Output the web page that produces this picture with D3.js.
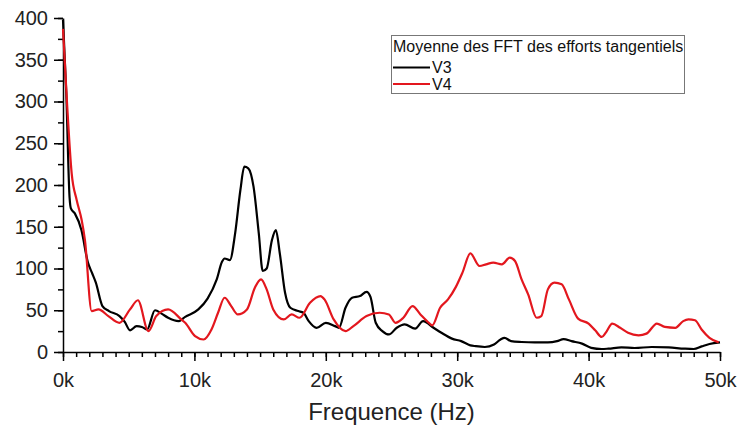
<!DOCTYPE html>
<html>
<head>
<meta charset="utf-8">
<script src="https://cdn.jsdelivr.net/npm/d3@7/dist/d3.min.js"></script>
<style>
  html, body { margin: 0; padding: 0; background: #fff; }
  svg { display: block; font-family: "Liberation Sans", Arial, sans-serif; }
</style>
</head>
<body>
<svg id="chart" width="739" height="432"></svg>
<script>
// Frequencies in kHz
const v3Freq = [0, 0.25, 0.5, 0.6, 0.9, 1.4, 1.9, 2.2, 2.5, 3.0, 3.5, 4.3, 4.7, 5.1, 5.6, 6.0, 6.4, 7.0, 7.5, 8.0, 8.8, 9.3, 10.3, 11.0, 11.7, 12.1, 12.3, 12.7, 13.1, 13.5, 13.8, 14.1, 14.5, 14.9, 15.2, 15.5, 15.9, 16.2, 16.5, 16.9, 17.3, 17.9, 18.3, 18.7, 19.3, 20.0, 20.7, 21.0, 21.5, 22.0, 22.6, 23.1, 23.4, 23.8, 24.3, 24.8, 25.4, 26.0, 26.8, 27.4, 28.2, 28.8, 29.6, 30.3, 31.0, 31.4, 32.1, 32.8, 33.3, 33.6, 34.1, 34.9, 35.9, 36.9, 37.6, 38.1, 38.7, 39.5, 40.2, 41.0, 41.5, 42.5, 43.5, 44.8, 46.1, 47.3, 48.0, 48.6, 49.2, 50.0];
const v3Val  = [398, 310, 185, 172, 166, 146, 107, 95, 83, 55, 49, 43, 36, 26, 31, 30, 27, 50, 46, 41, 37, 42, 51, 64, 87, 108, 112, 110, 142, 194, 222, 220, 198, 142, 97, 100, 134, 146, 118, 71, 53, 49, 47, 37, 29, 35, 31, 29, 53, 65, 67, 72, 66, 35, 25, 21, 29, 33, 28, 37, 29, 23, 16, 13, 8, 7, 6, 9, 15, 17, 13, 12, 11.5, 11.5, 13, 15.5, 13, 10, 5, 3.6, 4, 5.5, 4.8, 6, 5.5, 4, 3.6, 6.7, 9.6, 11.5];

const v4Freq = [0, 0.3, 0.66, 1.04, 1.42, 1.67, 2.18, 2.7, 3.45, 4.3, 5.1, 5.7, 6.5, 7.1, 8.0, 9.0, 9.3, 10.05, 10.7, 11.3, 11.8, 12.3, 12.8, 13.3, 14.0, 14.6, 15.07, 15.5, 16.0, 16.8, 17.4, 18.0, 18.8, 19.6, 19.9, 20.6, 21.5, 22.1, 23.1, 24.1, 24.8, 25.3, 25.9, 26.6, 27.2, 27.7, 28.1, 28.7, 29.3, 29.9, 30.4, 31.0, 31.7, 32.2, 32.75, 33.4, 34.0, 34.4, 34.9, 35.4, 36.05, 36.4, 36.9, 37.4, 37.95, 38.5, 39.2, 40.0, 40.5, 41.0, 41.3, 41.8, 42.4, 43.0, 43.8, 44.4, 45.2, 45.8, 46.6, 47.2, 47.6, 48.1, 48.6, 49.2, 49.9];
const v4Val  = [387, 300, 214, 182, 158, 134, 49, 51, 43, 35, 51, 62, 25, 43, 51, 39, 35, 19, 15, 27, 47, 65, 55, 45, 51, 77, 87, 75, 51, 39, 45, 41, 59, 67, 63, 39, 25, 31, 43, 47, 45, 35, 41, 55, 45, 37, 32, 53, 63, 78, 95, 118, 103, 105, 107, 105, 113, 109, 87, 69, 41, 43, 75, 83, 81, 63, 40, 34, 26, 18, 23, 34, 29, 23, 20, 22, 34, 30, 29, 37, 39, 38, 27, 17, 11.5];

const xTicks = [0, 10, 20, 30, 40, 50];
const xTickLabels = ["0k", "10k", "20k", "30k", "40k", "50k"];
const yTicks = [0, 50, 100, 150, 200, 250, 300, 350, 400];
const legendTitle = "Moyenne des FFT des efforts tangentiels";
const seriesNames = ["V3", "V4"];
const seriesColors = ["#000000", "#e3171e"];

const svg = d3.select("#chart");
const L = 63, R = 720, T = 18, B = 352;

const x = d3.scaleLinear().domain([0, 50]).range([L, R]);
const y = d3.scaleLinear().domain([0, 400]).range([B, T]);

// minor ticks
svg.append("g").attr("transform", `translate(0,${B})`)
  .call(d3.axisBottom(x).tickValues(d3.range(0, 51, 1)).tickSize(5).tickFormat(""))
  .call(g => g.select(".domain").remove())
  .call(g => g.selectAll("line").attr("stroke", "#000").attr("stroke-width", 1.5));
svg.append("g").attr("transform", `translate(${L},0)`)
  .call(d3.axisLeft(y).tickValues(d3.range(0, 401, 25)).tickSize(5).tickFormat(""))
  .call(g => g.select(".domain").remove())
  .call(g => g.selectAll("line").attr("stroke", "#000").attr("stroke-width", 1.5));

// major axes
const xAxis = svg.append("g").attr("transform", `translate(0,${B})`)
  .call(d3.axisBottom(x).tickValues(xTicks).tickSizeInner(9).tickSizeOuter(0).tickPadding(12)
    .tickFormat((d, i) => xTickLabels[i]));
const yAxis = svg.append("g").attr("transform", `translate(${L},0)`)
  .call(d3.axisLeft(y).tickValues(yTicks).tickSizeInner(9).tickSizeOuter(0).tickPadding(6));
[xAxis, yAxis].forEach(g => {
  g.select(".domain").attr("stroke", "#000").attr("stroke-width", 1.5);
  g.selectAll(".tick line").attr("stroke", "#000").attr("stroke-width", 1.5);
  g.selectAll(".tick text").attr("fill", "#222").attr("font-size", 20)
    .attr("font-family", "'Liberation Sans', Arial, sans-serif");
});

// series
const line = d3.line().x(d => x(d[0])).y(d => y(d[1])).curve(d3.curveMonotoneX);
const series = [
  d3.zip(v3Freq, v3Val),
  d3.zip(v4Freq, v4Val)
];
// draw V4 first? V3 drawn first, V4 over
series.forEach((s, i) => {
  svg.append("path").datum(s).attr("d", line)
    .attr("fill", "none").attr("stroke", seriesColors[i]).attr("stroke-width", 2.2)
    .attr("stroke-linejoin", "round");
});

// axis title
svg.append("text").attr("x", (L + R) / 2).attr("y", 420).attr("text-anchor", "middle")
  .attr("font-size", 24).attr("fill", "#222").text("Frequence (Hz)");

// legend
const lg = svg.append("g");
lg.append("rect").attr("x", 391.5).attr("y", 35.5).attr("width", 293).attr("height", 58)
  .attr("fill", "#fff").attr("stroke", "#777").attr("stroke-width", 1);
lg.append("text").attr("x", 393).attr("y", 52).attr("font-size", 16).attr("fill", "#111").text(legendTitle);
seriesNames.forEach((n, i) => {
  const yy = 67.5 + i * 16.5;
  lg.append("line").attr("x1", 393).attr("x2", 430).attr("y1", yy).attr("y2", yy)
    .attr("stroke", seriesColors[i]).attr("stroke-width", 2.2);
  lg.append("text").attr("x", 432).attr("y", yy + 5.5).attr("font-size", 16).attr("fill", "#111").text(n);
});
</script>
</body>
</html>
